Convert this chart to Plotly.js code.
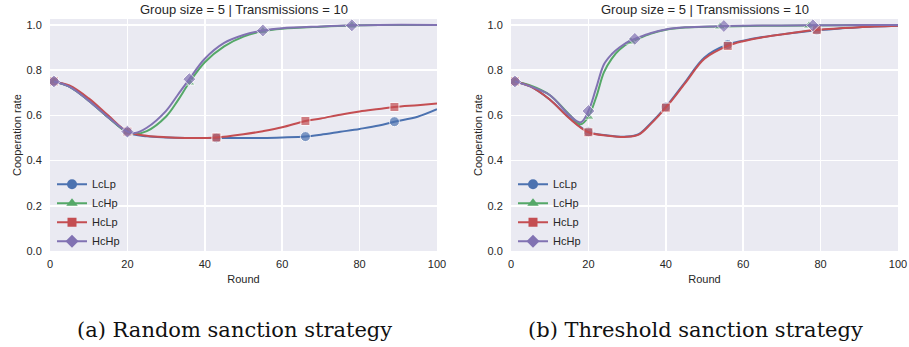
<!DOCTYPE html>
<html>
<head>
<meta charset="utf-8">
<script src="https://cdn.plot.ly/plotly-3.0.1.min.js"></script>
<style>
html,body{margin:0;padding:0;background:#fff;}
#chart{width:909px;height:347px;}
</style>
</head>
<body>
<div id="chart"></div>
<script>
// ---------- data ----------
const seriesNames = ["LcLp", "LcHp", "HcLp", "HcHp"];
const plotTitle = "Group size = 5 | Transmissions = 10";
const captions = ["(a) Random sanction strategy", "(b) Threshold sanction strategy"];

// (a) Random sanction strategy
const roundsA_low = [1,5,10,15,20,25,30,35,43,50,55,60,66,70,75,80,85,89,95,100];
const coopA_LcLp = [.750,.727,.665,.592,.525,.507,.502,.500,.500,.500,.500,.502,.506,.514,.527,.540,.555,.572,.594,.627];
const coopA_HcLp = [.750,.732,.675,.600,.528,.510,.503,.500,.502,.516,.530,.547,.575,.586,.603,.617,.628,.637,.645,.652];
const roundsA_high = [1,5,10,15,20,22,25,30,33,36,40,45,50,55,60,70,78,85,100];
const coopA_LcHp = [.750,.727,.665,.592,.525,.518,.530,.595,.665,.745,.835,.905,.948,.972,.983,.992,.997,.999,1.0];
const coopA_HcHp = [.750,.727,.665,.592,.528,.522,.545,.620,.690,.760,.850,.920,.955,.975,.985,.993,.998,1.0,1.0];
const markA_LcLp = [1,20,43,66,89];
const markA_LcHp = [1,20,36,55,78];
const markA_HcLp = [1,20,43,66,89];
const markA_HcHp = [1,20,36,55,78];

// (b) Threshold sanction strategy
const roundsB_low = [1,5,10,15,20,25,30,33,36,40,45,50,56,60,65,70,79,85,90,100];
const coopB_LcLp = [.750,.728,.670,.590,.527,.511,.506,.517,.563,.637,.747,.856,.913,.930,.946,.958,.976,.984,.990,.996];
const coopB_HcLp = [.750,.728,.670,.588,.525,.510,.505,.515,.560,.634,.742,.850,.907,.928,.945,.958,.978,.985,.990,.996];
const roundsB_high = [1,5,10,15,18,20,22,24,26,28,31,32,36,40,45,54,55,65,77,78,90,100];
const coopB_LcHp = [.750,.732,.690,.605,.560,.594,.680,.790,.850,.890,.926,.932,.960,.978,.988,.993,.993,.996,.997,.997,.999,1.0];
const coopB_HcHp = [.750,.728,.690,.602,.569,.619,.720,.825,.870,.900,.932,.938,.963,.980,.989,.994,.995,.997,.998,.998,.999,1.0];
const markB_LcLp = [1,20,40,56,79];
const markB_LcHp = [1,20,31,54,77];
const markB_HcLp = [1,20,40,56,79];
const markB_HcHp = [1,20,32,55,78];

// ---------- styles ----------
const colors = {LcLp:"#4C72B0", LcHp:"#55A868", HcLp:"#C44E52", HcHp:"#8172B2"};
const symbols = {LcLp:"circle", LcHp:"triangle-up", HcLp:"square", HcHp:"diamond"};
const msize = {LcLp:10, LcHp:10, HcLp:9, HcHp:10};
const txt = "#262626";
const sans = "Liberation Sans, Arial, sans-serif";

function seriesTrace(name, xs, ys, marks, xa, ya){
  return {
    x: xs, y: ys, xaxis: xa, yaxis: ya,
    mode: "lines+markers", type: "scatter",
    line: {color: colors[name], width: 2, shape: "spline", smoothing: 1},
    marker: {color: colors[name], symbol: symbols[name],
             size: xs.map(v => marks.includes(v) ? msize[name] : 0)},
    showlegend: false, hoverinfo: "skip", name: name
  };
}
function legendTrace(name, xa, ya, leg){
  return {
    x: [null], y: [null], xaxis: xa, yaxis: ya,
    mode: "lines+markers", type: "scatter", name: name, legend: leg,
    line: {color: colors[name], width: 2},
    marker: {color: colors[name], symbol: symbols[name], size: msize[name]},
    showlegend: true
  };
}

const dataA = {LcLp:[roundsA_low, coopA_LcLp, markA_LcLp], LcHp:[roundsA_high, coopA_LcHp, markA_LcHp],
               HcLp:[roundsA_low, coopA_HcLp, markA_HcLp], HcHp:[roundsA_high, coopA_HcHp, markA_HcHp]};
const dataB = {LcLp:[roundsB_low, coopB_LcLp, markB_LcLp], LcHp:[roundsB_high, coopB_LcHp, markB_LcHp],
               HcLp:[roundsB_low, coopB_HcLp, markB_HcLp], HcHp:[roundsB_high, coopB_HcHp, markB_HcHp]};

const traces = [];
seriesNames.forEach(n => traces.push(seriesTrace(n, dataA[n][0], dataA[n][1], dataA[n][2], "x", "y")));
seriesNames.forEach(n => traces.push(seriesTrace(n, dataB[n][0], dataB[n][1], dataB[n][2], "x2", "y2")));
seriesNames.forEach(n => traces.push(legendTrace(n, "x", "y", "legend")));
seriesNames.forEach(n => traces.push(legendTrace(n, "x2", "y2", "legend2")));

const W = 909, H = 347;
const yDom = [(H-251)/H, (H-19)/H];
function xAxis(dom){
  return {domain: dom, range: [0,100], tickvals: [0,20,40,60,80,100], showgrid: true,
    gridcolor: "#ffffff", gridwidth: 1.5, zeroline: false, showline: false,
    ticks: "outside", ticklen: 3, tickcolor: "rgba(0,0,0,0)",
    tickfont: {family: sans, size: 11, color: txt},
    title: {text: "Round", font: {family: sans, size: 11, color: txt}, standoff: 6},
    fixedrange: true};
}
function yAxis(anchor){
  return {domain: yDom, range: [0,1.026], tickvals: [0,0.2,0.4,0.6,0.8,1.0], ticktext: ["0.0","0.2","0.4","0.6","0.8","1.0"],
    showgrid: true, gridcolor: "#ffffff", gridwidth: 1.5, zeroline: false, showline: false,
    ticks: "outside", ticklen: 5, tickcolor: "rgba(0,0,0,0)", anchor: anchor,
    tickfont: {family: sans, size: 11, color: txt},
    title: {text: "Cooperation rate", font: {family: sans, size: 11, color: txt}, standoff: 2},
    fixedrange: true};
}
const legBase = {font: {family: sans, size: 11, color: txt}, bgcolor: "rgba(0,0,0,0)",
  borderwidth: 0, yanchor: "middle", xanchor: "left", y: (H-212.7)/H, itemclick: false};

const layout = {
  width: W, height: H,
  margin: {l:0, r:0, t:0, b:0},
  paper_bgcolor: "#ffffff", plot_bgcolor: "#EAEAF2",
  font: {family: sans, color: txt},
  xaxis: Object.assign(xAxis([50/W, 437/W]), {anchor: "y"}),
  yaxis: yAxis("x"),
  xaxis2: Object.assign(xAxis([511/W, 898/W]), {anchor: "y2"}),
  yaxis2: yAxis("x2"),
  legend: Object.assign({}, legBase, {x: 52/W}),
  legend2: Object.assign({}, legBase, {x: 513/W}),
  annotations: [
    {text: plotTitle, xref: "paper", yref: "paper", x: 243.5/W, y: (H-9)/H, xanchor: "center", yanchor: "middle",
     showarrow: false, font: {family: sans, size: 13, color: txt}},
    {text: plotTitle, xref: "paper", yref: "paper", x: 704.5/W, y: (H-9)/H, xanchor: "center", yanchor: "middle",
     showarrow: false, font: {family: sans, size: 13, color: txt}},
    {text: captions[0], xref: "paper", yref: "paper", x: 235/W, y: (H-330)/H, xanchor: "center", yanchor: "middle",
     showarrow: false, font: {family: "DejaVu Serif, serif", size: 21, color: "#111"}},
    {text: captions[1], xref: "paper", yref: "paper", x: 695.5/W, y: (H-330)/H, xanchor: "center", yanchor: "middle",
     showarrow: false, font: {family: "DejaVu Serif, serif", size: 21, color: "#111"}}
  ],
  showlegend: true
};

Plotly.newPlot("chart", traces, layout, {staticPlot: true, displayModeBar: false});
</script>
</body>
</html>
